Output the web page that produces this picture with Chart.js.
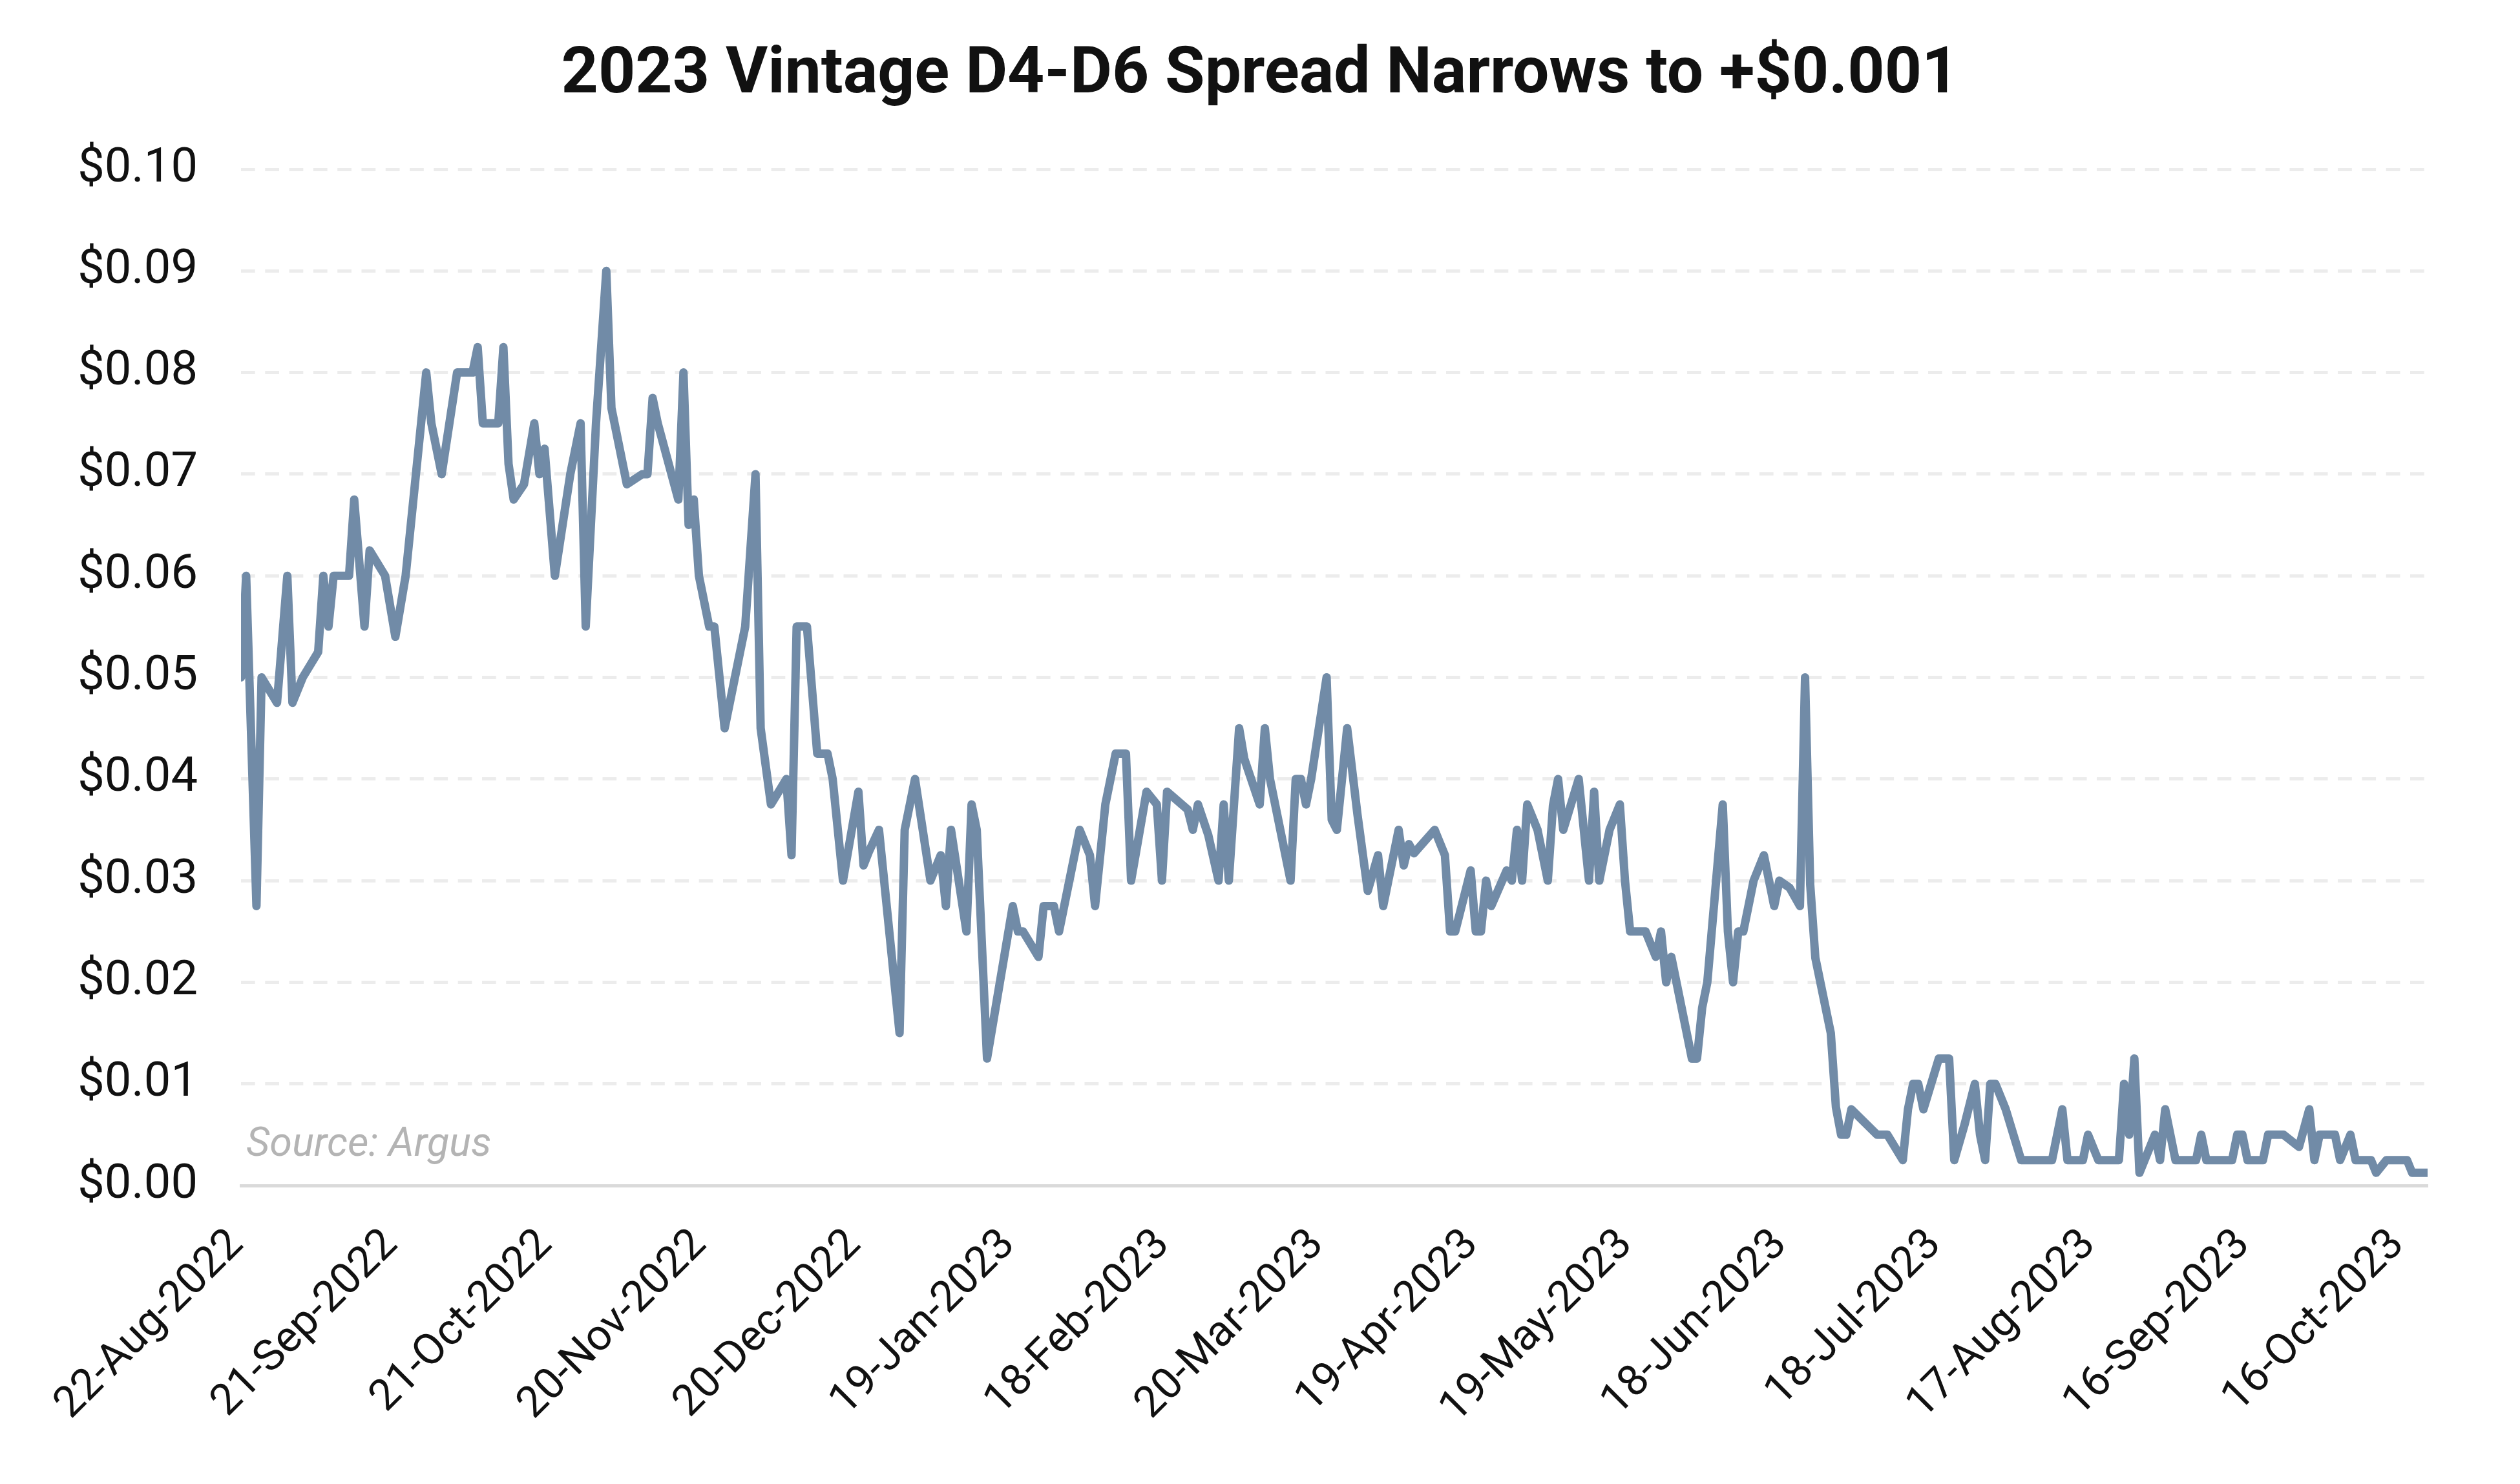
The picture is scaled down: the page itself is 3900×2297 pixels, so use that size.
<!DOCTYPE html>
<html>
<head>
<meta charset="utf-8">
<script src="https://cdn.jsdelivr.net/npm/chart.js@4.4.0/dist/chart.umd.min.js"></script>
<style>
  html, body { margin: 0; padding: 0; background: #ffffff; }
  #c { display: block; }
</style>
</head>
<body>
<canvas id="c" width="3900" height="2297"></canvas>
<script>
const chartTitle = '2023 Vintage D4-D6 Spread Narrows to +$0.001';
const sourceText = 'Source: Argus';

const dates = [
  '2022-08-22','2022-08-23','2022-08-25','2022-08-26','2022-08-29','2022-08-31','2022-09-01','2022-09-03',
  '2022-09-06','2022-09-07','2022-09-08','2022-09-09','2022-09-12','2022-09-13','2022-09-15','2022-09-16',
  '2022-09-19','2022-09-21','2022-09-23','2022-09-27','2022-09-28','2022-09-30','2022-10-03','2022-10-06',
  '2022-10-07','2022-10-08','2022-10-11','2022-10-12','2022-10-13','2022-10-14','2022-10-16','2022-10-18',
  '2022-10-19','2022-10-20','2022-10-22','2022-10-25','2022-10-27','2022-10-28','2022-10-30','2022-11-01',
  '2022-11-02','2022-11-05','2022-11-08','2022-11-09','2022-11-10','2022-11-11','2022-11-15','2022-11-16',
  '2022-11-17','2022-11-18','2022-11-19','2022-11-21','2022-11-22','2022-11-24','2022-11-28','2022-11-30',
  '2022-12-01','2022-12-03','2022-12-06','2022-12-07','2022-12-08','2022-12-10','2022-12-12','2022-12-14',
  '2022-12-15','2022-12-17','2022-12-20','2022-12-21','2022-12-22','2022-12-24','2022-12-28','2022-12-29',
  '2022-12-31','2023-01-03','2023-01-05','2023-01-06','2023-01-07','2023-01-10','2023-01-11','2023-01-12',
  '2023-01-14','2023-01-19','2023-01-20','2023-01-21','2023-01-24','2023-01-25','2023-01-27','2023-01-28',
  '2023-01-30','2023-02-01','2023-02-03','2023-02-04','2023-02-06','2023-02-08','2023-02-10','2023-02-11',
  '2023-02-14','2023-02-16','2023-02-17','2023-02-18','2023-02-22','2023-02-23','2023-02-24','2023-02-26',
  '2023-02-28','2023-03-01','2023-03-02','2023-03-04','2023-03-05','2023-03-08','2023-03-09','2023-03-10',
  '2023-03-12','2023-03-14','2023-03-15','2023-03-16','2023-03-17','2023-03-18','2023-03-21','2023-03-22',
  '2023-03-23','2023-03-25','2023-03-27','2023-03-29','2023-03-31','2023-04-01','2023-04-04','2023-04-05',
  '2023-04-06','2023-04-07','2023-04-11','2023-04-13','2023-04-14','2023-04-15','2023-04-18','2023-04-19',
  '2023-04-20','2023-04-21','2023-04-22','2023-04-25','2023-04-26','2023-04-27','2023-04-28','2023-04-29',
  '2023-05-01','2023-05-03','2023-05-04','2023-05-05','2023-05-06','2023-05-09','2023-05-11','2023-05-12',
  '2023-05-13','2023-05-15','2023-05-17','2023-05-18','2023-05-19','2023-05-22','2023-05-24','2023-05-25',
  '2023-05-26','2023-05-27','2023-05-31','2023-06-01','2023-06-02','2023-06-03','2023-06-06','2023-06-07',
  '2023-06-08','2023-06-09','2023-06-10','2023-06-12','2023-06-14','2023-06-16','2023-06-17','2023-06-19',
  '2023-06-21','2023-06-22','2023-06-23','2023-06-24','2023-06-27','2023-06-28','2023-06-29','2023-06-30',
  '2023-07-01','2023-07-06','2023-07-08','2023-07-11','2023-07-12','2023-07-13','2023-07-14','2023-07-15',
  '2023-07-18','2023-07-20','2023-07-21','2023-07-23','2023-07-25','2023-07-26','2023-07-27','2023-07-28',
  '2023-07-29','2023-07-31','2023-08-03','2023-08-09','2023-08-11','2023-08-12','2023-08-15','2023-08-16',
  '2023-08-18','2023-08-22','2023-08-23','2023-08-24','2023-08-25','2023-08-26','2023-08-29','2023-08-30',
  '2023-08-31','2023-09-02','2023-09-06','2023-09-07','2023-09-08','2023-09-13','2023-09-14','2023-09-15',
  '2023-09-16','2023-09-19','2023-09-20','2023-09-23','2023-09-26','2023-09-28','2023-09-29','2023-09-30',
  '2023-10-03','2023-10-04','2023-10-06','2023-10-07','2023-10-10','2023-10-11','2023-10-13','2023-10-17',
  '2023-10-18','2023-10-21'
];

const spread = [
  0.050,0.060,0.0275,0.050,0.0475,0.060,0.0475,0.050,
  0.0525,0.060,0.055,0.060,0.060,0.0675,0.055,0.0625,
  0.060,0.054,0.060,0.080,0.075,0.070,0.080,0.080,
  0.0825,0.075,0.075,0.0825,0.071,0.0675,0.069,0.075,
  0.070,0.0725,0.060,0.070,0.075,0.055,0.075,0.090,
  0.0765,0.069,0.070,0.070,0.0775,0.075,0.0675,0.080,
  0.065,0.0675,0.060,0.055,0.055,0.045,0.055,0.070,
  0.045,0.0375,0.040,0.0325,0.055,0.055,0.0425,0.0425,
  0.040,0.030,0.03875,0.0315,0.0328,0.035,0.015,0.035,
  0.040,0.030,0.0325,0.0275,0.035,0.025,0.0375,0.035,
  0.0125,0.0275,0.025,0.025,0.0225,0.0275,0.0275,0.025,
  0.030,0.035,0.0325,0.0275,0.0375,0.0425,0.0425,0.030,
  0.03875,0.0375,0.030,0.03875,0.037,0.035,0.0375,0.0345,
  0.030,0.0375,0.030,0.045,0.042,0.0375,0.045,0.040,
  0.035,0.030,0.040,0.040,0.0375,0.040,0.050,0.036,
  0.035,0.045,0.0365,0.029,0.0325,0.0275,0.035,0.0315,
  0.0336,0.0327,0.035,0.0325,0.025,0.025,0.031,0.025,
  0.025,0.030,0.0275,0.031,0.030,0.035,0.030,0.0375,
  0.035,0.030,0.0374,0.040,0.035,0.040,0.030,0.03875,
  0.030,0.035,0.0375,0.030,0.025,0.025,0.0225,0.025,
  0.020,0.0225,0.0125,0.0125,0.0175,0.020,0.0375,0.025,
  0.020,0.025,0.025,0.030,0.0325,0.0275,0.030,0.0293,
  0.0275,0.050,0.0296,0.0224,0.015,0.0077,0.005,0.005,
  0.0075,0.005,0.005,0.0025,0.0075,0.010,0.010,0.0075,
  0.0125,0.0125,0.0025,0.006,0.010,0.005,0.0025,0.010,
  0.010,0.0075,0.0025,0.0025,0.0075,0.0025,0.0025,0.005,
  0.0025,0.0025,0.010,0.005,0.0125,0.00125,0.005,0.0025,
  0.0075,0.0025,0.0025,0.005,0.0025,0.0025,0.005,0.005,
  0.0025,0.0025,0.005,0.005,0.0038,0.0075,0.0025,0.005,
  0.005,0.0025,0.005,0.0025,0.0025,0.00125,0.0025,0.0025,
  0.00125,0.00125
];

const tickDates = [
  '2022-08-22','2022-09-21','2022-10-21','2022-11-20','2022-12-20','2023-01-19','2023-02-18','2023-03-20',
  '2023-04-19','2023-05-19','2023-06-18','2023-07-18','2023-08-17','2023-09-16','2023-10-16'
];
const tickLabels = [
  '22-Aug-2022','21-Sep-2022','21-Oct-2022','20-Nov-2022','20-Dec-2022','19-Jan-2023','18-Feb-2023','20-Mar-2023',
  '19-Apr-2023','19-May-2023','18-Jun-2023','18-Jul-2023','17-Aug-2023','16-Sep-2023','16-Oct-2023'
];
const yTickValues = [0, 0.01, 0.02, 0.03, 0.04, 0.05, 0.06, 0.07, 0.08, 0.09, 0.10];

const DAY_MS = 86400000;
const t0 = Date.parse(dates[0]);
const toDay = s => Math.round((Date.parse(s) - t0) / DAY_MS);
const points = dates.map((d, i) => ({ x: toDay(d), y: spread[i] }));
const tickPos = tickDates.map(toDay);
const lastDay = toDay(dates[dates.length - 1]);

const sourcePlugin = {
  id: 'sourceNote',
  afterDraw(chart) {
    const ctx = chart.ctx;
    ctx.save();
    ctx.font = 'italic 63px Roboto';
    ctx.fillStyle = '#b4b4b4';
    ctx.textAlign = 'left';
    ctx.textBaseline = 'alphabetic';
    ctx.fillText(sourceText, chart.chartArea.left + 8, 1789);
    ctx.restore();
  }
};

new Chart(document.getElementById('c').getContext('2d'), {
  type: 'line',
  data: {
    datasets: [{
      data: points,
      borderColor: '#718ba7',
      borderWidth: 13,
      pointRadius: 0,
      pointHoverRadius: 0,
      tension: 0,
      fill: false,
      borderJoinStyle: 'round',
      borderCapStyle: 'round'
    }]
  },
  options: {
    responsive: false,
    animation: false,
    devicePixelRatio: 1,
    layout: { padding: { left: 0, right: 0, top: 0, bottom: 0 } },
    plugins: {
      legend: { display: false },
      tooltip: { enabled: false },
      title: {
        display: true,
        text: chartTitle,
        color: '#111111',
        font: { family: 'Roboto', size: 100, weight: 'bold' },
        padding: { top: 58, bottom: 84 }
      }
    },
    scales: {
      x: {
        type: 'linear',
        min: 0,
        max: lastDay,
        afterBuildTicks: s => { s.ticks = tickPos.map(v => ({ value: v })); },
        afterFit: s => { s.height = 462; },
        grid: { display: false, drawTicks: false },
        border: { display: true, color: '#dadada', width: 5 },
        ticks: {
          autoSkip: false,
          minRotation: 45,
          maxRotation: 45,
          padding: 53,
          labelOffset: -6,
          color: '#111111',
          font: { family: 'Roboto', size: 67 },
          callback: v => tickLabels[tickPos.indexOf(v)]
        }
      },
      y: {
        min: 0,
        max: 0.1,
        afterBuildTicks: s => { s.ticks = yTickValues.map(v => ({ value: v })); },
        afterFit: s => { s.width = 373; },
        grid: {
          color: c => (c.tick && c.tick.value === 0) ? 'rgba(0,0,0,0)' : '#ececec',
          lineWidth: 5,
          drawTicks: false
        },
        border: { display: false, dash: [21.7, 15.6] },
        ticks: {
          padding: 67,
          color: '#111111',
          font: { family: 'Roboto', size: 74 },
          callback: v => '$' + Number(v).toFixed(2)
        }
      },
      yRight: {
        position: 'right',
        display: true,
        afterFit: s => { s.width = 143; },
        grid: { display: false, drawTicks: false },
        border: { display: false },
        ticks: { display: false }
      }
    }
  },
  plugins: [sourcePlugin]
});
</script>
</body>
</html>
